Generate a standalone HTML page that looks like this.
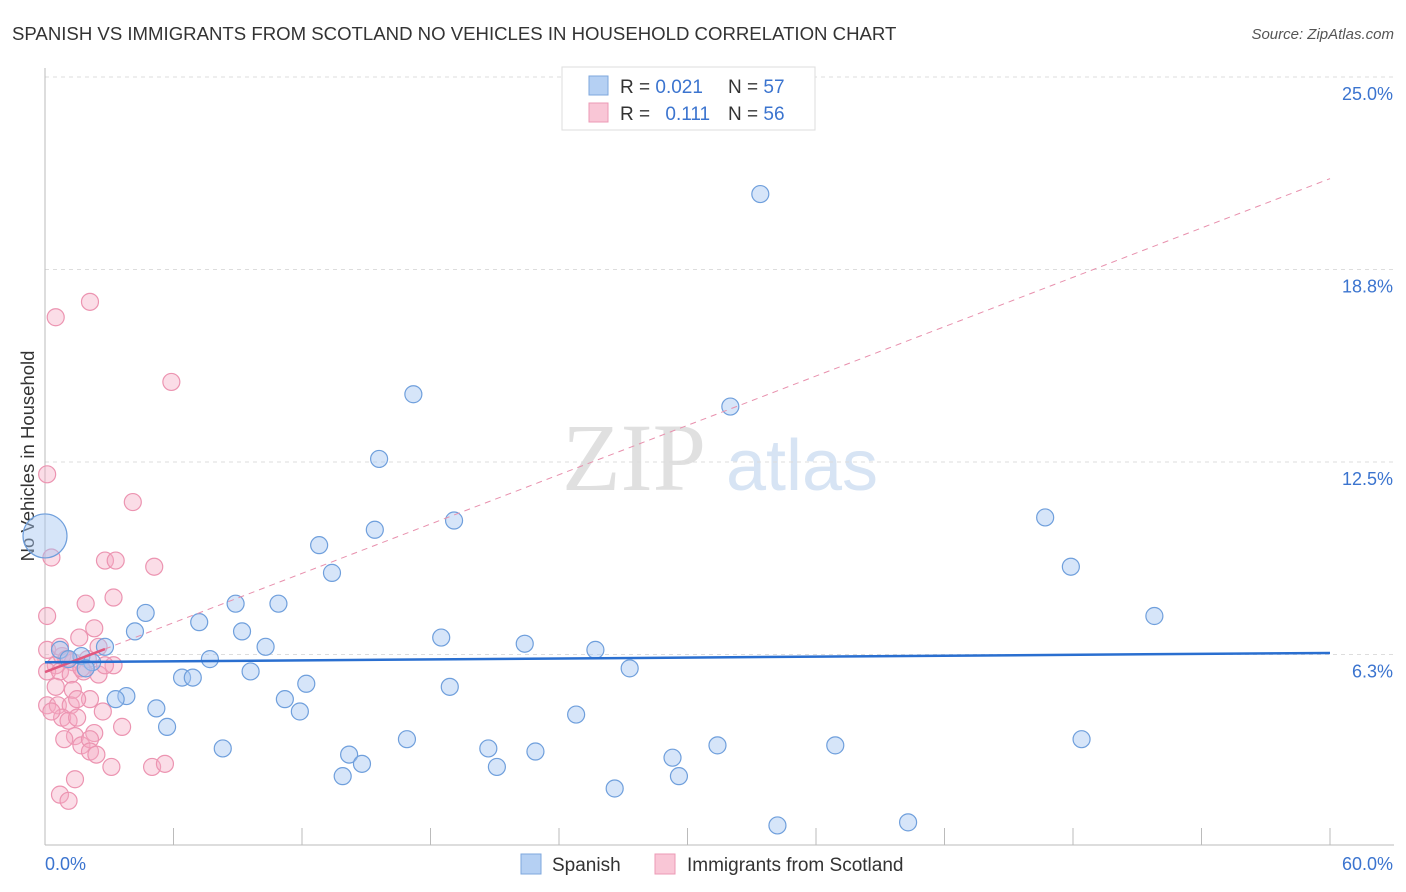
<!DOCTYPE html>
<html><head><meta charset="utf-8"><style>
body{margin:0;background:#fff;font-family:"Liberation Sans",sans-serif;}
</style></head><body>
<svg id="chart" width="1406" height="892" style="display:block">
<text x="12" y="40" font-size="18.6" fill="#333">SPANISH VS IMMIGRANTS FROM SCOTLAND NO VEHICLES IN HOUSEHOLD CORRELATION CHART</text>
<text x="1394" y="39" font-size="15" fill="#555" font-style="italic" text-anchor="end">Source: ZipAtlas.com</text>
<text x="634" y="490" font-size="96" fill="#e0e0e0" font-family="Liberation Serif,serif" text-anchor="middle">ZIP</text>
<text x="802" y="490" font-size="72" fill="#d7e4f4" text-anchor="middle">atlas</text>
<text transform="translate(34,456) rotate(-90)" font-size="18.5" fill="#333" text-anchor="middle">No Vehicles in Household</text>
<g id="grid"></g><g id="marks"></g>
<g>
<rect x="562" y="67" width="253" height="63" fill="#fff" stroke="#ddd"/>
<rect x="589" y="76" width="19" height="19" fill="#b5d0f3" stroke="#7ea7dc"/>
<rect x="589" y="103" width="19" height="19" fill="#f9c6d6" stroke="#ec9ab5"/>
<text x="620" y="93" font-size="19" fill="#333">R = <tspan fill="#3b74cf">0.021</tspan></text>
<text x="728" y="93" font-size="19" fill="#333">N = <tspan fill="#3b74cf">57</tspan></text>
<text x="620" y="120" font-size="19" fill="#333">R = <tspan fill="#3b74cf" dx="10">0.111</tspan></text>
<text x="728" y="120" font-size="19" fill="#333">N = <tspan fill="#3b74cf">56</tspan></text>
</g>
<g>
<rect x="521" y="854" width="20" height="20" fill="#b5d0f3" stroke="#7ea7dc"/>
<text x="552" y="871" font-size="19" fill="#333">Spanish</text>
<rect x="655" y="854" width="20" height="20" fill="#f9c6d6" stroke="#ec9ab5"/>
<text x="687" y="871" font-size="19" fill="#333">Immigrants from Scotland</text>
</g>
</svg>
<script>
const yTicks=[25,18.75,12.5,6.25];
const yTickLabels=["25.0%","18.8%","12.5%","6.3%"];
const xTicks=[0,6,12,18,24,30,36,42,48,54,60];
const spanishX=[33.4,17.2,32.0,15.6,19.1,15.4,12.8,13.4,4.7,8.9,10.9,7.2,4.2,9.2,10.3,2.8,0.7,1.7,2.2,7.7,9.6,6.4,6.9,12.2,3.8,3.3,5.2,11.2,11.9,5.7,8.3,14.2,14.8,13.9,16.9,18.5,22.4,25.7,27.3,18.9,24.8,20.7,21.1,22.9,29.3,29.6,26.6,31.4,34.2,36.9,40.3,46.7,47.9,51.8,48.4,1.1,1.9];
const spanishY=[21.2,14.7,14.3,12.6,10.6,10.3,9.8,8.9,7.6,7.9,7.9,7.3,7.0,7.0,6.5,6.5,6.4,6.2,6.0,6.1,5.7,5.5,5.5,5.3,4.9,4.8,4.5,4.8,4.4,3.9,3.2,3.0,2.7,2.3,3.5,6.8,6.6,6.4,5.8,5.2,4.3,3.2,2.6,3.1,2.9,2.3,1.9,3.3,0.7,3.3,0.8,10.7,9.1,7.5,3.5,6.1,5.8];
const scotX=[0.5,2.1,5.9,0.1,4.1,0.3,2.8,3.3,5.1,0.1,1.9,3.2,2.3,1.6,0.1,0.5,0.8,1.3,2.0,2.5,3.2,0.1,0.7,1.2,1.8,2.5,0.5,1.3,2.1,0.1,0.6,1.2,2.7,0.8,1.1,1.5,3.6,1.4,2.3,1.7,2.1,2.1,3.1,5.0,5.6,1.4,0.7,1.1,0.7,1.7,1.0,1.5,2.4,2.8,0.3,0.9];
const scotY=[17.2,17.7,15.1,12.1,11.2,9.4,9.3,9.3,9.1,7.5,7.9,8.1,7.1,6.8,6.4,5.9,6.2,6.0,6.1,6.5,5.9,5.7,5.7,5.6,5.7,5.6,5.2,5.1,4.8,4.6,4.6,4.6,4.4,4.2,4.1,4.2,3.9,3.6,3.7,3.3,3.5,3.1,2.6,2.6,2.7,2.2,1.7,1.5,6.5,5.8,6.1,4.8,3.0,5.9,4.4,3.5];
const bigX=[0.0], bigY=[10.1];
const blueTrend=[6.0,6.3];
const pinkTrend=[5.68,21.7];
const pinkSolidEnd=2.8;
const X=v=>45+v/60*1285, Y=v=>847-v*30.8;
const NS="http://www.w3.org/2000/svg";
function mk(tag,parent,attrs){const e=document.createElementNS(NS,tag);for(const k in attrs)e.setAttribute(k,attrs[k]);parent.appendChild(e);return e;}
const grid=document.getElementById('grid'), marks=document.getElementById('marks');
yTicks.forEach((t,i)=>{
 const l=mk('line',grid,{x1:45,x2:1394,y1:Y(t),y2:Y(t),stroke:'#ddd','stroke-dasharray':'4,4'});
 
 
 const tx=mk('text',grid,{x:1393,y:Y(t)+23,'font-size':18,fill:'#3b74cf','text-anchor':'end'});
 tx.textContent=yTickLabels[i];
 
 
});
const ax=mk('line',grid,{x1:45,x2:45,y1:68,y2:845,stroke:'#bbb'});


const bx=mk('line',grid,{x1:45,x2:1394,y1:845,y2:845,stroke:'#bbb'});


xTicks.forEach(t=>{
 const l=mk('line',grid,{x1:X(t),x2:X(t),y1:828,y2:845,stroke:'#bbb'});
 
 
});
const xl0=mk('text',grid,{x:45,y:870,'font-size':18,fill:'#3b74cf'});xl0.textContent='0.0%';


const xl1=mk('text',grid,{x:1393,y:870,'font-size':18,fill:'#3b74cf','text-anchor':'end'});xl1.textContent='60.0%';


scotX.forEach((x,i)=>{
 const c=mk('circle',marks,{cx:X(x),cy:Y(scotY[i]),r:8.5,fill:'rgba(246,170,196,0.4)',stroke:'#ec94b1','stroke-width':1.2});
 
 
});
spanishX.forEach((x,i)=>{
 const c=mk('circle',marks,{cx:X(x),cy:Y(spanishY[i]),r:8.5,fill:'rgba(163,198,242,0.45)',stroke:'#6f9fdc','stroke-width':1.2});
 
 
});
bigX.forEach((x,i)=>{
 const c=mk('circle',marks,{cx:X(x),cy:Y(bigY[i]),r:22,fill:'rgba(163,198,242,0.45)',stroke:'#6f9fdc','stroke-width':1.2});
 
 
});
const py=v=>pinkTrend[0]+(pinkTrend[1]-pinkTrend[0])*v/60;
const pd=mk('line',marks,{x1:X(pinkSolidEnd),y1:Y(py(pinkSolidEnd)),x2:X(60),y2:Y(pinkTrend[1]),stroke:'#e890ad','stroke-width':1,'stroke-dasharray':'6,5'});


const ps=mk('line',marks,{x1:X(0),y1:Y(pinkTrend[0]),x2:X(pinkSolidEnd),y2:Y(py(pinkSolidEnd)),stroke:'#e2587f','stroke-width':2.5});


const bl=mk('line',marks,{x1:X(0),y1:Y(blueTrend[0]),x2:X(60),y2:Y(blueTrend[1]),stroke:'#2a6fd0','stroke-width':2.5});


</script>
</body></html>
